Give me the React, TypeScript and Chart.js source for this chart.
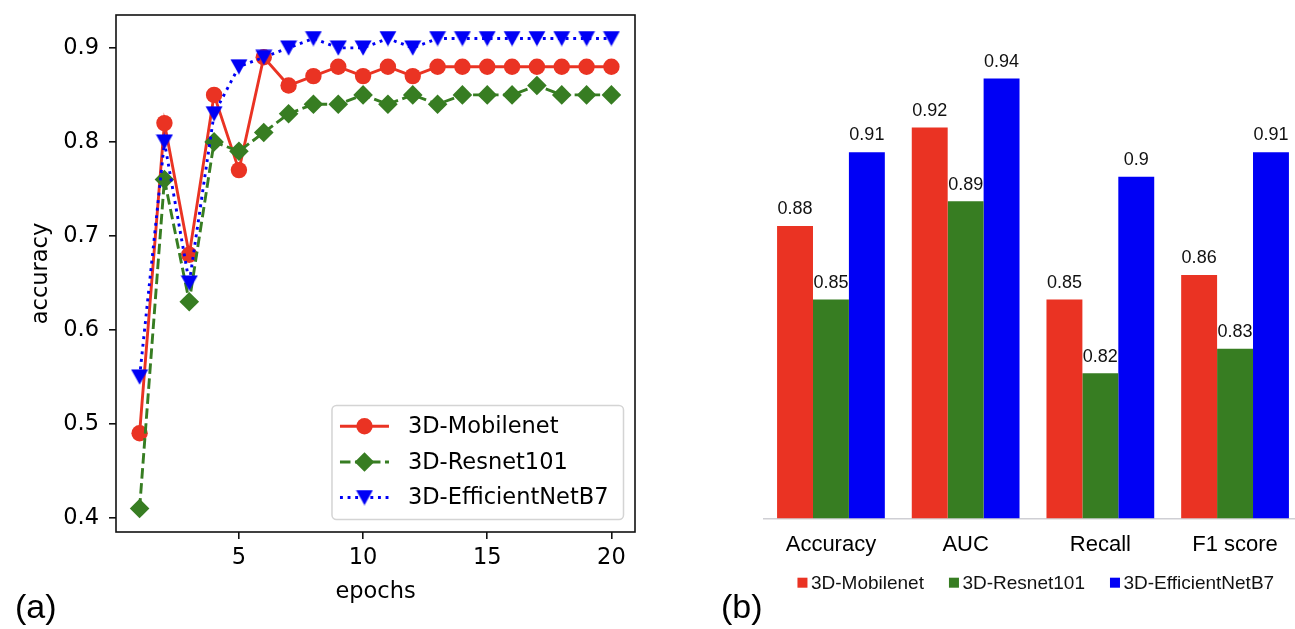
import React, { useEffect, useRef } from 'react';
import { Chart, registerables } from 'chart.js';

Chart.register(...registerables);

// ---------- data: panel (a) ----------
const epochs = [1, 2, 3, 4, 5, 6, 7, 8, 9, 10, 11, 12, 13, 14, 15, 16, 17, 18, 19, 20];
const mobilenetAccuracy = [0.49, 0.82, 0.68, 0.85, 0.77, 0.89, 0.86, 0.87, 0.88, 0.87, 0.88, 0.87, 0.88, 0.88, 0.88, 0.88, 0.88, 0.88, 0.88, 0.88];
const resnetAccuracy = [0.41, 0.76, 0.63, 0.8, 0.79, 0.81, 0.83, 0.84, 0.84, 0.85, 0.84, 0.85, 0.84, 0.85, 0.85, 0.85, 0.86, 0.85, 0.85, 0.85];
const efficientAccuracy = [0.55, 0.8, 0.65, 0.83, 0.88, 0.89, 0.9, 0.91, 0.9, 0.9, 0.91, 0.9, 0.91, 0.91, 0.91, 0.91, 0.91, 0.91, 0.91, 0.91];
const epochTicks = [5, 10, 15, 20];
const accuracyTicks = [0.4, 0.5, 0.6, 0.7, 0.8, 0.9];
const seriesNames = ['3D-Mobilenet', '3D-Resnet101', '3D-EfficientNetB7'];

// ---------- data: panel (b) ----------
const metricCategories = ['Accuracy', 'AUC', 'Recall', 'F1 score'];
const mobilenetMetrics = [0.88, 0.92, 0.85, 0.86];
const resnetMetrics = [0.85, 0.89, 0.82, 0.83];
const efficientMetrics = [0.91, 0.94, 0.9, 0.91];

const RED = '#ea3323';
const GREEN = '#377d22';
const BLUE = '#0000f5';
const MPL_FONT = '"DejaVu Sans", sans-serif';
const ARIAL_FONT = '"Liberation Sans", Arial, sans-serif';

const R_CIRCLE = 8.2;
const R_DIAMOND = 9.8;

function makeTriangle(color: string): HTMLCanvasElement {
  const c = document.createElement('canvas');
  c.width = 18;
  c.height = 16;
  const ctx = c.getContext('2d')!;
  ctx.fillStyle = color;
  ctx.beginPath();
  ctx.moveTo(0.5, 0.5);
  ctx.lineTo(17.5, 0.5);
  ctx.lineTo(9, 15.8);
  ctx.closePath();
  ctx.fill();
  return c;
}

function drawMarker(ctx: CanvasRenderingContext2D, kind: string, x: number, y: number, color: string, tri: HTMLCanvasElement) {
  ctx.fillStyle = color;
  if (kind === 'circle') {
    ctx.beginPath();
    ctx.arc(x, y, R_CIRCLE, 0, Math.PI * 2);
    ctx.fill();
  } else if (kind === 'diamond') {
    ctx.beginPath();
    ctx.moveTo(x - R_DIAMOND, y);
    ctx.lineTo(x, y - R_DIAMOND);
    ctx.lineTo(x + R_DIAMOND, y);
    ctx.lineTo(x, y + R_DIAMOND);
    ctx.closePath();
    ctx.fill();
  } else {
    ctx.drawImage(tri, x - tri.width / 2, y - tri.height / 2);
  }
}

export default function App() {
  const lineRef = useRef<HTMLCanvasElement>(null);
  const barRef = useRef<HTMLCanvasElement>(null);

  useEffect(() => {
    const tri = makeTriangle(BLUE);
    const lineStyles = [
      { color: RED, dash: [] as number[], marker: 'circle' },
      { color: GREEN, dash: [10.5, 4.5], marker: 'diamond' },
      { color: BLUE, dash: [2.9, 4.7], marker: 'triangle' },
    ];

    const framePlugin = {
      id: 'frameAndLegend',
      afterDraw(chart: any) {
        const { ctx, chartArea: a } = chart;
        ctx.save();
        ctx.strokeStyle = '#111';
        ctx.lineWidth = 1.6;
        ctx.strokeRect(a.left, a.top, a.right - a.left, a.bottom - a.top);

        // legend (lower right)
        ctx.font = '22.5px ' + MPL_FONT;
        const maxText = Math.max(...seriesNames.map((n) => ctx.measureText(n).width));
        const right = a.right - 11.5;
        const bottom = a.bottom - 12.5;
        const width = 76 + maxText + 15;
        const height = 114;
        const left = right - width;
        const top = bottom - height;
        ctx.beginPath();
        (ctx as any).roundRect(left, top, width, height, 4.5);
        ctx.fillStyle = 'rgba(255,255,255,0.85)';
        ctx.fill();
        ctx.strokeStyle = '#d4d4d4';
        ctx.lineWidth = 1.5;
        ctx.stroke();
        const rows = [20.7, 56.5, 92];
        seriesNames.forEach((name, i) => {
          const st = lineStyles[i];
          const y = top + rows[i];
          ctx.strokeStyle = st.color;
          ctx.lineWidth = 2.9;
          ctx.setLineDash(st.dash);
          ctx.beginPath();
          ctx.moveTo(left + 8, y);
          ctx.lineTo(left + 57, y);
          ctx.stroke();
          ctx.setLineDash([]);
          drawMarker(ctx, st.marker, left + 32.5, y, st.color, tri);
          ctx.fillStyle = '#000';
          ctx.textBaseline = 'middle';
          ctx.textAlign = 'left';
          ctx.fillText(name, left + 76, y + 1);
        });
        ctx.restore();
      },
    };

    const mkData = (vals: number[]) => epochs.map((e, i) => ({ x: e, y: vals[i] }));

    const lineChart = new Chart(lineRef.current!, {
      type: 'line',
      data: {
        datasets: [
          {
            label: seriesNames[0],
            data: mkData(mobilenetAccuracy),
            borderColor: RED,
            backgroundColor: RED,
            borderWidth: 2.9,
            pointStyle: 'circle',
            pointRadius: R_CIRCLE,
            pointBorderWidth: 0,
            pointBackgroundColor: RED,
            order: 2,
            clip: false as any,
          },
          {
            label: seriesNames[1],
            data: mkData(resnetAccuracy),
            borderColor: GREEN,
            backgroundColor: GREEN,
            borderWidth: 2.9,
            borderDash: [10.5, 4.5],
            pointStyle: 'rectRot',
            pointRadius: R_DIAMOND,
            pointBorderWidth: 0,
            pointBackgroundColor: GREEN,
            order: 1,
            clip: false as any,
          },
          {
            label: seriesNames[2],
            data: mkData(efficientAccuracy),
            borderColor: BLUE,
            backgroundColor: BLUE,
            borderWidth: 2.9,
            borderDash: [2.9, 4.7],
            pointStyle: tri as any,
            pointRadius: 9,
            pointBorderWidth: 0,
            pointBackgroundColor: BLUE,
            order: 0,
            clip: false as any,
          },
        ],
      },
      options: {
        responsive: false,
        animation: false,
        events: [],
        layout: { padding: { left: 0, top: 15, right: 25, bottom: 0 } },
        plugins: { legend: { display: false }, tooltip: { enabled: false } },
        scales: {
          x: {
            type: 'linear',
            min: 0.05,
            max: 20.95,
            afterBuildTicks: (scale: any) => {
              scale.ticks = epochTicks.map((value) => ({ value }));
            },
            afterFit: (scale: any) => {
              scale.height = 97;
              scale.paddingLeft = 0;
              scale.paddingRight = 0;
            },
            ticks: {
              callback: (v: any) => String(v),
              color: '#000',
              font: { family: MPL_FONT, size: 22.5 },
              padding: 5.5,
              maxRotation: 0,
              autoSkip: false,
            },
            grid: { drawOnChartArea: false, drawTicks: true, tickLength: 7, color: '#111', lineWidth: 1.6 },
            border: { display: false },
            title: {
              display: true,
              text: 'epochs',
              color: '#000',
              font: { family: MPL_FONT, size: 22.5 },
              padding: { top: 0, bottom: 23.5 },
            },
          },
          y: {
            type: 'linear',
            min: 0.385,
            max: 0.935,
            afterBuildTicks: (scale: any) => {
              scale.ticks = accuracyTicks.map((value) => ({ value }));
            },
            afterFit: (scale: any) => {
              scale.width = 116;
              scale.paddingTop = 0;
              scale.paddingBottom = 0;
            },
            ticks: {
              callback: (v: any) => Number(v).toFixed(1),
              color: '#000',
              font: { family: MPL_FONT, size: 22.5 },
              padding: 10,
              autoSkip: false,
            },
            grid: { drawOnChartArea: false, drawTicks: true, tickLength: 7, color: '#111', lineWidth: 1.6 },
            border: { display: false },
            title: {
              display: true,
              text: 'accuracy',
              color: '#000',
              font: { family: MPL_FONT, size: 22.5 },
              padding: { top: 27.5, bottom: 0 },
            },
          },
        },
      },
      plugins: [framePlugin],
    });

    const barColors = [RED, GREEN, BLUE];
    const barLabelPlugin = {
      id: 'barLabelsLegend',
      afterDatasetsDraw(chart: any) {
        const { ctx } = chart;
        ctx.save();
        ctx.font = '18px ' + ARIAL_FONT;
        ctx.fillStyle = '#111';
        ctx.textAlign = 'center';
        ctx.textBaseline = 'alphabetic';
        chart.data.datasets.forEach((ds: any, i: number) => {
          const meta = chart.getDatasetMeta(i);
          meta.data.forEach((bar: any, j: number) => {
            ctx.fillText(String(ds.data[j]), bar.x, bar.y - 11.8);
          });
        });
        ctx.restore();
      },
      afterDraw(chart: any) {
        const { ctx, chartArea: a } = chart;
        ctx.save();
        ctx.font = '19px ' + ARIAL_FONT;
        const widths = seriesNames.map((n) => ctx.measureText(n).width);
        const box = 10;
        const gap = 3.5;
        const spacing = 25;
        const total = widths.reduce((s, w) => s + box + gap + w, 0) + spacing * (widths.length - 1);
        let x = (a.left + a.right) / 2 + 2.8 - total / 2;
        const baseline = 589;
        seriesNames.forEach((name, i) => {
          ctx.fillStyle = barColors[i];
          ctx.fillRect(x, 577.7, box, box);
          ctx.fillStyle = '#111';
          ctx.textAlign = 'left';
          ctx.textBaseline = 'alphabetic';
          ctx.fillText(name, x + box + gap, baseline);
          x += box + gap + widths[i] + spacing;
        });
        ctx.restore();
      },
    };

    const barChart = new Chart(barRef.current!, {
      type: 'bar',
      data: {
        labels: metricCategories,
        datasets: [
          { label: seriesNames[0], data: mobilenetMetrics, backgroundColor: RED, borderWidth: 0 },
          { label: seriesNames[1], data: resnetMetrics, backgroundColor: GREEN, borderWidth: 0 },
          { label: seriesNames[2], data: efficientMetrics, backgroundColor: BLUE, borderWidth: 0 },
        ],
      },
      options: {
        responsive: false,
        animation: false,
        events: [],
        layout: { padding: { left: 63.6, top: 53.9, right: 7.6, bottom: 0 } },
        plugins: { legend: { display: false }, tooltip: { enabled: false } },
        datasets: { bar: { categoryPercentage: 0.8, barPercentage: 1.0 } },
        scales: {
          x: {
            type: 'category',
            afterFit: (scale: any) => {
              scale.height = 110.7;
              scale.paddingLeft = 0;
              scale.paddingRight = 0;
            },
            ticks: {
              color: '#000',
              font: { family: ARIAL_FONT, size: 22 },
              padding: 13.5,
              maxRotation: 0,
              autoSkip: false,
            },
            grid: { display: false, drawTicks: false },
            border: { display: true, color: '#cfcfd4', width: 1.5 },
          },
          y: {
            display: false,
            min: 0.761,
            max: 0.95,
          },
        },
      },
      plugins: [barLabelPlugin],
    });

    return () => {
      lineChart.destroy();
      barChart.destroy();
    };
  }, []);

  const panelLabel: React.CSSProperties = {
    position: 'absolute',
    font: '34px "Liberation Sans", Arial, sans-serif',
    lineHeight: '34px',
    color: '#000',
    whiteSpace: 'nowrap',
  };

  return (
    <div style={{ position: 'absolute', left: 0, top: 0, width: 1295, height: 629, overflow: 'hidden', background: '#fff' }}>
      <canvas ref={lineRef} width={660} height={629} style={{ position: 'absolute', left: 0, top: 0, width: 660, height: 629 }} />
      <canvas ref={barRef} width={610} height={629} style={{ position: 'absolute', left: 700, top: 0, width: 610, height: 629 }} />
      <div style={{ ...panelLabel, left: 15, top: 589 }}>(a)</div>
      <div style={{ ...panelLabel, left: 721, top: 589 }}>(b)</div>
    </div>
  );
}
